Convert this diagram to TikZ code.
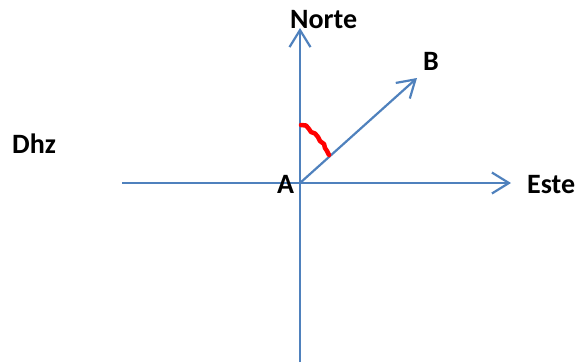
\documentclass[tikz,border=0pt]{standalone}
\usepackage{fontspec}
\setmainfont{Carlito}
\usetikzlibrary{arrows.meta}
\definecolor{axisblue}{RGB}{79,129,189}
\begin{document}
\begin{tikzpicture}[x=1pt,y=-1pt,
  axis/.style={draw=axisblue,line width=2.2pt},
  barb/.style={-{Straight Barb[length=17pt,width=21pt,line width=2.2pt]}},
  lbl/.style={font=\fontsize{28}{31}\selectfont\bfseries,inner sep=0pt,anchor=base west}]
\useasboundingbox (0,0) rectangle (578,362);
\coordinate (A) at (300,183);
\coordinate (N) at (300,28);
\coordinate (S) at (300,362);
\coordinate (W) at (122,183);
\coordinate (E) at (511,183);
\coordinate (Bt) at (417,78);
\draw[axis] (A) -- (W);
\draw[axis] (S) -- (A);
\draw[axis,barb] (A) -- (N);
\draw[axis,barb] (A) -- (E);
\draw[axis,barb] (A) -- (Bt);
\draw[red,line width=4.5pt,line cap=round,line join=round] (301,125) -- (306,125.5) -- (309,129) -- (311,132) -- (315,133.5) -- (318,137) -- (320,141) -- (324,144) -- (325,148) -- (327,151) -- (329,155);
\node[lbl] (norte) at (290,28) {Norte};
\node[lbl] (b) at (423,70) {B};
\node[lbl] (a) at (277,193) {A};
\node[lbl] (este) at (527,193) {Este};
\node[lbl] (dhz) at (12,153) {Dhz};
\end{tikzpicture}
\end{document}
